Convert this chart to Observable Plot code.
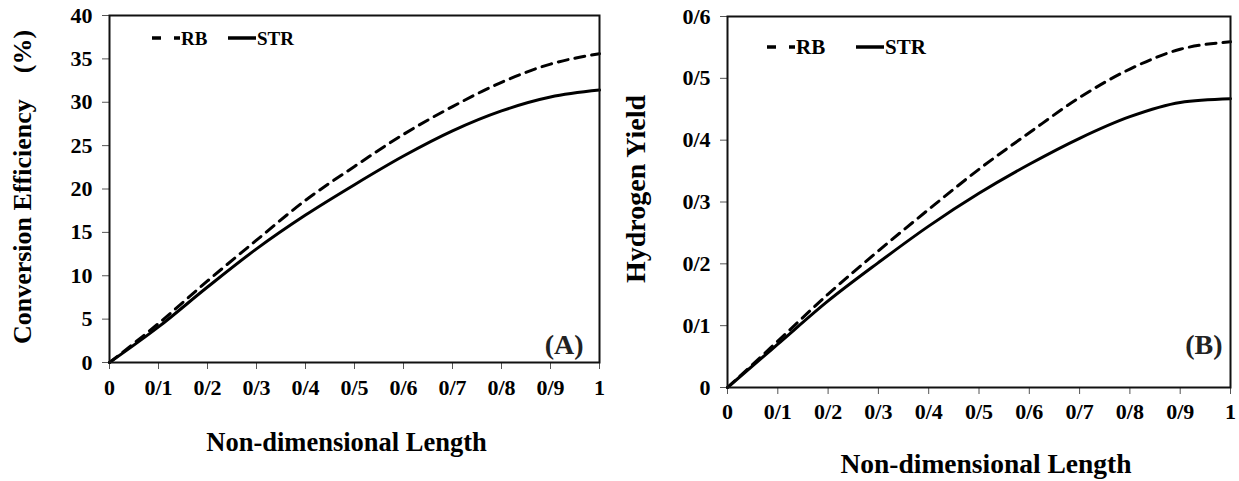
<!DOCTYPE html>
<html>
<head>
<meta charset="utf-8">
<script src="https://cdn.jsdelivr.net/npm/d3@7"></script>
<script src="https://cdn.jsdelivr.net/npm/@observablehq/plot@0.6"></script>
<style>
  body { margin: 0; background: #fff; }
  #wrap { position: relative; width: 1239px; height: 481px; overflow: hidden; font-family: "Liberation Serif", "Times New Roman", serif; font-weight: bold; }
  .panel { position: absolute; top: 0; }
  .legend { position: absolute; top: 0; left: 0; pointer-events: none; }
</style>
</head>
<body>
<div id="wrap">
  <div id="panelA" class="panel" style="left:0"></div>
  <div id="panelB" class="panel" style="left:620px"></div>
</div>
<script>
// Non-dimensional length positions
const lengthX = [0, 0.1, 0.2, 0.3, 0.4, 0.5, 0.6, 0.7, 0.8, 0.9, 1.0];

// (A) Conversion efficiency (%)
const efficiencyRB  = [0, 4.5, 9.4, 14.1, 18.7, 22.6, 26.3, 29.5, 32.3, 34.4, 35.6];
const efficiencySTR = [0, 4.1, 8.7, 13.1, 17.0, 20.5, 23.8, 26.7, 29.0, 30.6, 31.4];

// (B) Hydrogen yield
const yieldRB  = [0, 0.075, 0.151, 0.221, 0.288, 0.353, 0.412, 0.469, 0.515, 0.547, 0.559];
const yieldSTR = [0, 0.070, 0.140, 0.202, 0.261, 0.314, 0.361, 0.403, 0.438, 0.461, 0.467];

// Tick values and labels
const xTicks = [0, 0.1, 0.2, 0.3, 0.4, 0.5, 0.6, 0.7, 0.8, 0.9, 1];
const xTickLabels = ["0", "0/1", "0/2", "0/3", "0/4", "0/5", "0/6", "0/7", "0/8", "0/9", "1"];
const effTicks = [0, 5, 10, 15, 20, 25, 30, 35, 40];
const effTickLabels = ["0", "5", "10", "15", "20", "25", "30", "35", "40"];
const yieldTicks = [0, 0.1, 0.2, 0.3, 0.4, 0.5, 0.6];
const yieldTickLabels = ["0", "0/1", "0/2", "0/3", "0/4", "0/5", "0/6"];

const seriesNames = ["RB", "STR"];

const FONT = '"Liberation Serif", "Times New Roman", serif';

function rows(xs, ys, name) { return xs.map((x, i) => ({x, y: ys[i], series: name})); }
function fmt(ticks, labels) { return d => { const i = ticks.findIndex(t => Math.abs(t - d) < 1e-9); return i >= 0 ? labels[i] : ""; }; }

function panel(cfg) {
  return Plot.plot({
    width: cfg.width, height: 481,
    marginLeft: cfg.ml, marginRight: cfg.mr, marginTop: cfg.mt, marginBottom: cfg.mb,
    style: {fontFamily: FONT, fontWeight: "bold", fontSize: "22px", color: "#000", background: "transparent", overflow: "visible"},
    x: {domain: [0, 1]},
    y: {domain: cfg.yDomain},
    marks: [
      Plot.axisX({ticks: xTicks, tickFormat: fmt(xTicks, xTickLabels), tickSize: 7, tickPadding: cfg.xPad, label: null, stroke: "#555", fontSize: 22}),
      Plot.axisY({ticks: cfg.yTicks, tickFormat: fmt(cfg.yTicks, cfg.yLabels), tickSize: 7, tickPadding: 10, label: null, stroke: "#555", fontSize: 22}),
      Plot.line(rows(lengthX, cfg.rb, "RB"), {x: "x", y: "y", stroke: "#000", strokeWidth: 3, strokeDasharray: "10,7", curve: "monotone-x"}),
      Plot.line(rows(lengthX, cfg.str, "STR"), {x: "x", y: "y", stroke: "#000", strokeWidth: 3, curve: "monotone-x"}),
      Plot.frame({stroke: "#111", strokeWidth: 2}),
      Plot.text([cfg.xTitle], {text: d => d, frameAnchor: "bottom", textAnchor: "middle", lineAnchor: "middle", dy: cfg.xTitleDy, dx: cfg.xTitleDx, fontSize: cfg.xTitleSize, fontWeight: "bold", fill: "#000"}),
      Plot.text([cfg.yTitle], {text: d => d, frameAnchor: "left", textAnchor: "middle", lineAnchor: "middle", rotate: -90, dx: cfg.yTitleDx, dy: cfg.yTitleDy, fontSize: cfg.yTitleSize, fontWeight: "bold", fill: "#000"}),
      Plot.text([cfg.tag], {text: d => d, frameAnchor: "bottom-right", textAnchor: "end", lineAnchor: "middle", dx: cfg.tagDx, dy: cfg.tagDy, fontSize: 28, fontWeight: "bold", fill: "#222"})
    ]
  });
}

document.getElementById("panelA").append(panel({
  width: 620, ml: 109, mr: 21, mt: 15, mb: 119, xPad: 10,
  yDomain: [0, 40], yTicks: effTicks, yLabels: effTickLabels,
  rb: efficiencyRB, str: efficiencySTR,
  xTitle: "Non-dimensional Length", xTitleDy: 80, xTitleDx: -8, xTitleSize: 26.5,
  yTitle: "Conversion Efficiency\u00a0\u00a0\u00a0\u00a0(%)", yTitleDx: -87, yTitleDy: -2, yTitleSize: 26,
  tag: "(A)", tagDx: -16, tagDy: -17
}));

document.getElementById("panelB").append(panel({
  width: 619, ml: 107, mr: 9, mt: 16, mb: 94, xPad: 9,
  yDomain: [0, 0.6], yTicks: yieldTicks, yLabels: yieldTickLabels,
  rb: yieldRB, str: yieldSTR,
  xTitle: "Non-dimensional Length", xTitleDy: 77, xTitleDx: 7, xTitleSize: 27.5,
  yTitle: "Hydrogen Yield", yTitleDx: -91, yTitleDy: -13, yTitleSize: 28,
  tag: "(B)", tagDx: -8, tagDy: -42
}));

// Legends (line-style keys drawn inside each panel, top-left)
function legend(left, top, fontSize, gapAfterRB) {
  const ns = "http://www.w3.org/2000/svg";
  const svg = document.createElementNS(ns, "svg");
  svg.setAttribute("class", "legend");
  svg.setAttribute("width", 220); svg.setAttribute("height", 30);
  svg.style.left = left + "px"; svg.style.top = (top - 15) + "px";
  svg.style.fontFamily = FONT; svg.style.fontWeight = "bold"; svg.style.fontSize = fontSize + "px";
  let x = 0;
  seriesNames.forEach((name, i) => {
    const line = document.createElementNS(ns, "line");
    line.setAttribute("x1", x); line.setAttribute("x2", x + 28);
    line.setAttribute("y1", 15); line.setAttribute("y2", 15);
    line.setAttribute("stroke", "#000"); line.setAttribute("stroke-width", 3.5);
    if (name === "RB") line.setAttribute("stroke-dasharray", "9,13");
    svg.append(line);
    const t = document.createElementNS(ns, "text");
    t.setAttribute("x", x + 29); t.setAttribute("y", 15); t.setAttribute("dy", "0.35em");
    t.textContent = name;
    svg.append(t);
    x += gapAfterRB;
  });
  document.getElementById("wrap").append(svg);
}
legend(152, 38, 19, 76);
legend(767, 47, 21, 89);
</script>
</body>
</html>
